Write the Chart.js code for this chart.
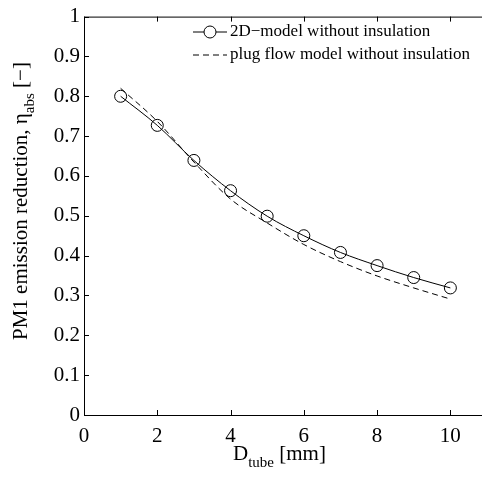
<!DOCTYPE html>
<html>
<head>
<meta charset="utf-8">
<script src="https://cdn.jsdelivr.net/npm/chart.js@4/dist/chart.umd.min.js"></script>
<style>
  html, body { margin: 0; padding: 0; background: #fff; overflow: hidden; }
  #wrap { width: 482px; height: 478px; overflow: hidden; }
</style>
</head>
<body>
<div id="wrap"><canvas id="c" width="500" height="478"></canvas></div>
<script>
// D_tube [mm] vs. PM1 emission reduction eta_abs
const dTube = [1, 2, 3, 4, 5, 6, 7, 8, 9, 10];
const model2D = [0.800, 0.727, 0.639, 0.563, 0.499, 0.450, 0.408, 0.375, 0.345, 0.319];
const plugFlow = [0.820, 0.737, 0.635, 0.542, 0.482, 0.428, 0.385, 0.349, 0.319, 0.291];
const xTicks = [0, 2, 4, 6, 8, 10];
const yTicks = [0, 0.1, 0.2, 0.3, 0.4, 0.5, 0.6, 0.7, 0.8, 0.9, 1];
const legendLabels = ['2D\u2212model without insulation', 'plug flow model without insulation'];

const SERIF = '"Liberation Serif", "Times New Roman", serif';

// matlab-ish box: inward ticks on all sides, axis titles with subscripts, legend without frame
const decor = {
  id: 'decor',
  afterDraw(chart) {
    const { ctx, chartArea: a, scales: { x, y } } = chart;
    ctx.save();
    ctx.strokeStyle = '#000';
    ctx.lineWidth = 1;
    ctx.setLineDash([]);
    ctx.strokeRect(a.left + 0.5, a.top + 0.5, a.right - a.left, a.bottom - a.top);
    ctx.beginPath();
    xTicks.forEach(v => {
      const px = Math.round(x.getPixelForValue(v)) + 0.5;
      ctx.moveTo(px, a.bottom); ctx.lineTo(px, a.bottom - 5);
      ctx.moveTo(px, a.top); ctx.lineTo(px, a.top + 5);
    });
    yTicks.forEach(v => {
      const py = Math.round(y.getPixelForValue(v)) + 0.5;
      ctx.moveTo(a.left, py); ctx.lineTo(a.left + 5, py);
      ctx.moveTo(a.right, py); ctx.lineTo(a.right - 5, py);
    });
    ctx.stroke();

    ctx.fillStyle = '#000';
    ctx.textBaseline = 'alphabetic';
    ctx.textAlign = 'left';

    // x title: D_tube [mm]
    const big = '21px ' + SERIF, small = '15px ' + SERIF;
    let tx = 233, ty = 460;
    ctx.font = big; ctx.fillText('D', tx, ty); tx += ctx.measureText('D').width;
    ctx.font = small; ctx.fillText('tube', tx, ty + 7); tx += ctx.measureText('tube').width;
    ctx.font = big; ctx.fillText(' [mm]', tx, ty);

    // y title, rotated
    ctx.save();
    ctx.translate(27, 340);
    ctx.rotate(-Math.PI / 2);
    let sx = 0;
    ctx.font = big; ctx.fillText('PM1 emission reduction, \u03b7', sx, 0);
    sx += ctx.measureText('PM1 emission reduction, \u03b7').width;
    ctx.font = small; ctx.fillText('abs', sx, 7); sx += ctx.measureText('abs').width;
    ctx.font = big; ctx.fillText(' [\u2212]', sx, 0);
    ctx.restore();

    // legend
    ctx.font = '17px ' + SERIF;
    ctx.textBaseline = 'middle';
    const lx0 = 193, lx1 = 227, rows = [32, 55];
    ctx.beginPath();
    ctx.moveTo(lx0, rows[0]); ctx.lineTo(lx1, rows[0]);
    ctx.stroke();
    ctx.beginPath();
    ctx.arc((lx0 + lx1) / 2, rows[0], 6, 0, Math.PI * 2);
    ctx.fillStyle = '#fff'; ctx.fill(); ctx.stroke();
    ctx.setLineDash([6, 4]);
    ctx.beginPath();
    ctx.moveTo(lx0, rows[1]); ctx.lineTo(lx1, rows[1]);
    ctx.stroke();
    ctx.setLineDash([]);
    ctx.fillStyle = '#000';
    ctx.fillText(legendLabels[0], 230, rows[0]);
    ctx.fillText(legendLabels[1], 230, rows[1]);
    ctx.restore();
  }
};

new Chart(document.getElementById('c'), {
  type: 'line',
  data: {
    datasets: [
      {
        label: legendLabels[0],
        data: dTube.map((d, i) => ({ x: d, y: model2D[i] })),
        borderColor: '#000',
        borderWidth: 1,
        pointRadius: 6,
        pointBorderWidth: 1,
        pointBackgroundColor: 'rgba(0,0,0,0)',
        pointBorderColor: '#000',
        cubicInterpolationMode: 'monotone',
        fill: false,
      },
      {
        label: legendLabels[1],
        data: dTube.map((d, i) => ({ x: d, y: plugFlow[i] })),
        borderColor: '#000',
        borderWidth: 1,
        borderDash: [6, 4],
        pointRadius: 0,
        cubicInterpolationMode: 'monotone',
        fill: false,
      },
    ],
  },
  options: {
    responsive: false,
    animation: false,
    devicePixelRatio: 1,
    layout: { padding: { top: 13, right: 13, left: 0, bottom: 0 } },
    plugins: { legend: { display: false }, tooltip: { enabled: false } },
    scales: {
      x: {
        type: 'linear', min: 0, max: 11,
        afterBuildTicks: s => { s.ticks = xTicks.map(v => ({ value: v })); },
        afterFit: s => { s.height = 63; },
        grid: { display: false, drawTicks: false },
        border: { display: false },
        ticks: { color: '#000', padding: 9, font: { family: SERIF, size: 21 }, maxRotation: 0 },
      },
      y: {
        type: 'linear', min: 0, max: 1,
        afterBuildTicks: s => { s.ticks = yTicks.map(v => ({ value: v })); },
        afterFit: s => { s.width = 84; },
        grid: { display: false, drawTicks: false },
        border: { display: false },
        ticks: {
          color: '#000', padding: 4, font: { family: SERIF, size: 21 },
          callback: v => String(+v.toFixed(1)),
        },
      },
    },
  },
  plugins: [decor],
});
</script>
</body>
</html>
